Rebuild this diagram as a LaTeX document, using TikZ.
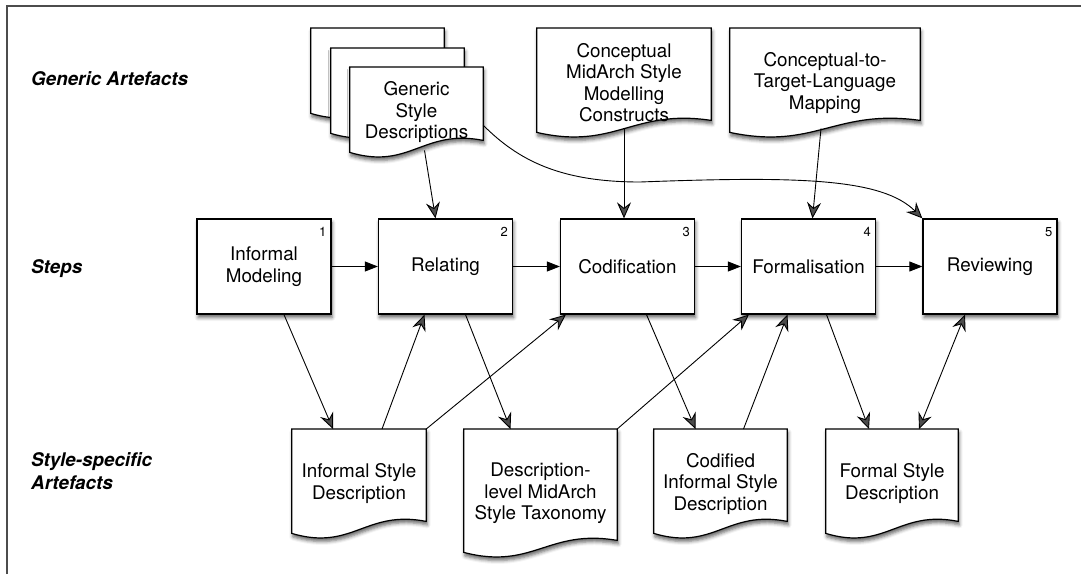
\documentclass[tikz,border=0pt]{standalone}
\usepackage{fontspec}
\setmainfont{TeX Gyre Heros}
\usetikzlibrary{arrows.meta,calc,backgrounds,shadows.blur}

\tikzset{
  softshadow/.style={blur shadow={shadow xshift=1pt, shadow yshift=-3.5pt, shadow blur radius=3.5pt, shadow opacity=60}},
  docline/.style={draw=black, line width=1.2pt, fill=white, softshadow},
}
% page outline with a wavy lower edge, drawn behind the node text
\newcommand{\docoutline}[1]{%
  \begin{pgfonlayer}{background}
    \path[docline] (#1.north west) -- (#1.north east) -- ([yshift=17pt]#1.south east)
      .. controls ($(#1.south east)!0.45!(#1.south west)+(0,-29)$)
      and ($(#1.south east)!0.55!(#1.south west)+(0,13)$) .. ([yshift=5pt]#1.south west) -- cycle;
  \end{pgfonlayer}}

\begin{document}
\begin{tikzpicture}[
  x=1pt, y=-1pt,
  font=\fontsize{18.8}{21.5}\selectfont,
  stepbox/.style={draw, line width=1.3pt, fill=white, minimum width=134pt, minimum height=95pt, align=center, inner sep=2pt, softshadow},
  doc/.style={anchor=north, align=center, inner sep=0pt},
  num/.style={font=\fontsize{13}{13}\selectfont, inner sep=0pt},
  rowtitle/.style={font=\fontsize{18.8}{23}\selectfont\bfseries\itshape, anchor=west, align=left, inner sep=0pt},
  frame/.style={draw=black!70, line width=1.2pt},
  flow/.style={-{Stealth[length=16pt, width=14pt, inset=5.5pt]}, line width=0.9pt},
  seq/.style={-{Triangle[length=13pt, width=10pt]}, line width=0.9pt},
  mutual/.style={{Stealth[length=16pt, width=14pt, inset=5.5pt]}-{Stealth[length=16pt, width=14pt, inset=5.5pt]}, line width=0.9pt}
]
  \useasboundingbox (0,0) rectangle (1081,574);
  \draw[frame] (7,574) -- (7,6) -- (1081,6);

  % row titles
  \node[rowtitle] (titlegeneric) at (31,79) {Generic Artefacts};
  \node[rowtitle] (titlesteps) at (31,269) {Steps};
  \node[rowtitle] (titlespecific) at (31,471) {Style-specific\\Artefacts};

  % the five steps
  \node[stepbox] (step1) at (264,266.5) {Informal\\Modeling};
  \node[stepbox] (step2) at (445.5,266.5) {Relating};
  \node[stepbox] (step3) at (627.5,266.5) {Codification};
  \node[stepbox] (step4) at (808.5,266.5) {Formalisation};
  \node[stepbox] (step5) at (990,266.5) {Reviewing};
  \foreach \j in {1,...,5} {
    \node[num] (num\j) at ([shift={(-9,14)}]step\j.north east) {\j};
  }
  \foreach \i/\j in {1/2, 2/3, 3/4, 4/5} {
    \draw[seq] (step\i) -- (step\j);
  }

  % generic artefacts
  \node[doc, minimum width=133pt, minimum height=90pt] (generic1) at (377.5,28) {};
  \node[doc, minimum width=133pt, minimum height=90pt] (generic2) at (397.5,48) {};
  \node[doc, minimum width=133pt, minimum height=90pt] (generic3) at (416.5,67) {Generic\\Style\\Descriptions};
  \node[doc, minimum width=174pt, minimum height=109pt] (midarch) at (624,28) {Conceptual\\MidArch Style\\Modelling\\Constructs};
  \node[doc, minimum width=190pt, minimum height=109pt] (mapping) at (825,28) {Conceptual-to-\\Target-Language\\Mapping};

  % style-specific artefacts
  \node[doc, minimum width=134pt, minimum height=109pt] (informal) at (359,429) {Informal Style\\Description};
  \node[doc, minimum width=153pt, minimum height=128pt] (taxonomy) at (540.5,429) {Description-\\level MidArch\\Style Taxonomy};
  \node[doc, minimum width=133pt, minimum height=109pt] (codified) at (720.5,429) {Codified\\Informal Style\\Description};
  \node[doc, minimum width=132pt, minimum height=109pt] (formaldoc) at (892,429) {Formal Style\\Description};

  \foreach \d in {generic1, generic2, generic3, midarch, mapping, informal, taxonomy, codified, formaldoc} {
    \docoutline{\d}
  }

  % inputs from the generic artefacts
  \draw[flow] ([xshift=8pt, yshift=7pt]generic3.south) -- ([xshift=-10pt]step2.north);
  \draw[flow] ([yshift=9pt]midarch.south) -- (midarch.south |- step3.north);
  \draw[flow] ([xshift=-4pt, yshift=9pt]mapping.south) -- ([xshift=4pt]step4.north);
  \coordinate (bend) at (640,182);
  \draw[flow] ([yshift=-13pt]generic3.east) .. controls +(35,35) and +(-80,0) .. (bend)
    .. controls +(160,-6) and +(-40,-40) .. (step5.north west);

  % steps and style-specific artefacts
  \draw[flow] ([xshift=20pt]step1.south) -- ([xshift=-26pt]informal.north);
  \draw[flow] ([xshift=23pt]informal.north) -- ([xshift=-21pt]step2.south);
  \draw[flow] (informal.north east) -- ([xshift=6pt]step3.south west);
  \draw[flow] ([xshift=20pt]step2.south) -- ([xshift=-30pt]taxonomy.north);
  \draw[flow] (taxonomy.north east) -- ([xshift=8pt]step4.south west);
  \draw[flow] ([xshift=19pt]step3.south) -- ([xshift=-25pt]codified.north);
  \draw[flow] ([xshift=23pt]codified.north) -- ([xshift=-21pt]step4.south);
  \draw[flow] ([xshift=18pt]step4.south) -- ([xshift=-23pt]formaldoc.north);
  \draw[mutual] ([xshift=-25pt]step5.south) -- ([xshift=27pt]formaldoc.north);
\end{tikzpicture}
\end{document}
